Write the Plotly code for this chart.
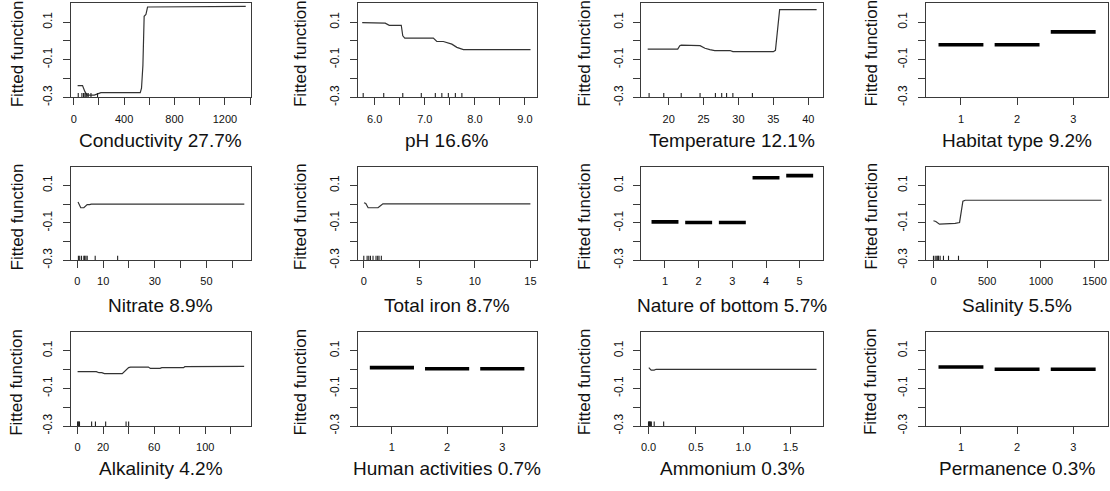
import plotly.graph_objects as go

W, H = 1110, 491

# ---------------- data ----------------
titles = ["Conductivity 27.7%", "pH 16.6%", "Temperature 12.1%", "Habitat type 9.2%",
          "Nitrate 8.9%", "Total iron 8.7%", "Nature of bottom 5.7%", "Salinity 5.5%",
          "Alkalinity 4.2%", "Human activities 0.7%", "Ammonium 0.3%", "Permanence 0.3%"]

cond_x = [31, 70, 89, 105, 163, 189, 216, 528, 538, 549, 559, 573, 586, 1365]
cond_y = [-0.237, -0.237, -0.269, -0.287, -0.287, -0.279, -0.274, -0.274, -0.251, -0.130, 0.131, 0.140, 0.180, 0.183]
cond_rug = [36, 65, 78, 89, 97, 105, 115, 137, 189]

ph_x = [5.75, 6.18, 6.21, 6.29, 6.53, 6.56, 6.60, 7.17, 7.24, 7.37, 7.54, 7.64, 7.72, 7.77, 9.11]
ph_y = [0.097, 0.097, 0.094, 0.083, 0.083, 0.027, 0.015, 0.015, -0.003, -0.003, -0.017, -0.034, -0.040, -0.046, -0.046]
ph_rug = [5.77, 6.18, 6.56, 6.93, 7.21, 7.34, 7.47, 7.61, 7.74]

temp_x = [17.0, 21.3, 21.6, 21.8, 24.5, 25.2, 25.9, 26.6, 28.8, 29.2, 35.0, 35.3, 35.9, 41.2]
temp_y = [-0.043, -0.043, -0.025, -0.022, -0.025, -0.039, -0.046, -0.051, -0.051, -0.057, -0.057, -0.050, 0.166, 0.166]
temp_rug = [17.2, 19.3, 21.8, 24.5, 26.7, 27.6, 28.3, 29.2, 32.0]

habitat_levels = [1, 2, 3]
habitat_y = [-0.020, -0.020, 0.048]

nitrate_x = [0.25, 1.3, 2.5, 3.8, 4.7, 5.4, 64.7]
nitrate_y = [0.012, -0.019, -0.019, -0.002, -0.002, 0.000, 0.000]
nitrate_rug = [0.4, 0.9, 1.6, 2.5, 2.8, 3.3, 3.8, 6.9, 15.6]

iron_x = [0.02, 0.18, 0.39, 1.28, 1.5, 1.72, 15.0]
iron_y = [0.008, 0.004, -0.019, -0.019, -0.008, 0.002, 0.002]
iron_rug = [0.0, 0.3, 0.45, 0.6, 0.83, 1.1, 1.25, 1.37, 1.58]

bottom_levels = [1, 2, 3, 4, 5]
bottom_y = [-0.095, -0.098, -0.098, 0.142, 0.153]

sal_x = [0, 22, 56, 171, 202, 243, 274, 296, 1565]
sal_y = [-0.089, -0.093, -0.107, -0.107, -0.103, -0.098, 0.016, 0.021, 0.021]
sal_rug = [0, 16, 31, 40, 47, 62, 93, 140, 233]

alk_x = [0, 14.7, 16.8, 19, 21, 35, 40, 41.5, 55.5, 57, 64.6, 66, 83, 84, 130.5]
alk_y = [-0.011, -0.011, -0.017, -0.017, -0.022, -0.022, 0.010, 0.013, 0.013, 0.006, 0.006, 0.010, 0.010, 0.015, 0.017]
alk_rug = [0, 0.5, 1, 1.5, 11, 14, 22, 38, 40]

human_levels = [1, 2, 3]
human_y = [0.010, 0.004, 0.004]

amm_x = [0.003, 0.028, 0.06, 0.08, 1.775]
amm_y = [0.010, -0.003, -0.003, 0.001, 0.001]
amm_rug = [0.0, 0.005, 0.01, 0.015, 0.02, 0.03, 0.06, 0.16]

perm_levels = [1, 2, 3]
perm_y = [0.013, 0.001, 0.001]

# x axis setup per panel: (range, tickvals, ticktext)
x_axes = [
    ([-22, 1405], [0, 200, 400, 600, 800, 1000, 1200, 1400], ["0", "", "400", "", "800", "", "1200", ""]),
    ([5.66, 9.23], [6.0, 6.5, 7.0, 7.5, 8.0, 8.5, 9.0], ["6.0", "", "7.0", "", "8.0", "", "9.0"]),
    ([16.1, 42.15], [20, 25, 30, 35, 40], ["20", "25", "30", "35", "40"]),
    ([0.38, 3.62], [1, 2, 3], ["1", "2", "3"]),
    ([-2.5, 67.2], [0, 10, 20, 30, 40, 50, 60], ["0", "10", "", "30", "", "50", ""]),
    ([-0.55, 15.55], [0, 5, 10, 15], ["0", "5", "10", "15"]),
    ([0.3, 5.7], [1, 2, 3, 4, 5], ["1", "2", "3", "4", "5"]),
    ([-68, 1625], [0, 500, 1000, 1500], ["0", "500", "1000", "1500"]),
    ([-5.2, 135.7], [0, 20, 40, 60, 80, 100, 120], ["0", "20", "", "60", "", "100", ""]),
    ([0.38, 3.62], [1, 2, 3], ["1", "2", "3"]),
    ([-0.075, 1.846], [0.0, 0.5, 1.0, 1.5], ["0.0", "0.5", "1.0", "1.5"]),
    ([0.38, 3.62], [1, 2, 3], ["1", "2", "3"]),
]

y_range = [-0.3, 0.2]
y_tickvals = [-0.3, -0.2, -0.1, 0.0, 0.1]
y_ticktext = ["-0.3", "", "-0.1", "", "0.1"]

continuous = {0: (cond_x, cond_y, cond_rug), 1: (ph_x, ph_y, ph_rug), 2: (temp_x, temp_y, temp_rug),
              4: (nitrate_x, nitrate_y, nitrate_rug), 5: (iron_x, iron_y, iron_rug),
              7: (sal_x, sal_y, sal_rug), 8: (alk_x, alk_y, alk_rug), 10: (amm_x, amm_y, amm_rug)}
categorical = {3: (habitat_levels, habitat_y), 6: (bottom_levels, bottom_y),
               9: (human_levels, human_y), 11: (perm_levels, perm_y)}

# ---------------- layout geometry (pixels) ----------------
col_px = [(70, 250), (357, 536), (641, 823), (926, 1108)]
row_px = [(3.3, 99.3), (170, 265), (338, 434)]
ytitle_px = [16, 300, 584, 871]
xtitle_py = [143, 311, 477]

FONT = "Liberation Sans, Arial, Helvetica, sans-serif"
AX = "#3a3a3a"

fig = go.Figure()
layout = dict(width=W, height=H, margin=dict(l=0, r=0, t=0, b=0),
              paper_bgcolor="white", plot_bgcolor="white", showlegend=False,
              font=dict(family=FONT, color="#111"))
annotations = []

for i in range(12):
    r, c = divmod(i, 4)
    n = "" if i == 0 else str(i + 1)
    xa, ya = "x" + n, "y" + n
    x0, x1 = col_px[c]
    y0, y1 = row_px[r]
    rng, tv, tt = x_axes[i]
    layout["xaxis" + n] = dict(domain=[x0 / W, x1 / W], range=rng, anchor=ya,
                               tickvals=tv, ticktext=tt, ticks="outside", ticklen=7,
                               tickcolor=AX, tickwidth=1, showline=True, linecolor=AX,
                               linewidth=1, mirror=True, showgrid=False, zeroline=False,
                               tickfont=dict(size=11, family=FONT, color="#111"),
                               ticklabelstandoff=4, fixedrange=True)
    layout["yaxis" + n] = dict(domain=[1 - y1 / H, 1 - y0 / H], range=y_range, anchor=xa,
                               tickvals=y_tickvals, ticktext=y_ticktext, ticks="outside",
                               ticklen=7, tickcolor=AX, tickwidth=1, showline=True,
                               linecolor=AX, linewidth=1, mirror=True, showgrid=False,
                               zeroline=False, tickangle=-90,
                               tickfont=dict(size=12, family=FONT, color="#111"),
                               ticklabelstandoff=6, fixedrange=True)
    if i in continuous:
        xs, ys, rug = continuous[i]
        fig.add_trace(go.Scatter(x=xs, y=ys, mode="lines", xaxis=xa, yaxis=ya,
                                 line=dict(color="#333", width=1.2), hoverinfo="skip"))
        fig.add_trace(go.Scatter(x=rug, y=[y_range[0]] * len(rug), mode="markers",
                                 xaxis=xa, yaxis=ya, marker=dict(size=0.1, color="#222"),
                                 error_y=dict(type="data", symmetric=False,
                                              array=[0.024] * len(rug), arrayminus=[0] * len(rug),
                                              width=0, thickness=1.1, color="#222"),
                                 hoverinfo="skip"))
    else:
        lv, ys = categorical[i]
        sx, sy = [], []
        for l, v in zip(lv, ys):
            sx += [l - 0.4, l + 0.4, None]
            sy += [v, v, None]
        fig.add_trace(go.Scatter(x=sx, y=sy, mode="lines", xaxis=xa, yaxis=ya,
                                 line=dict(color="black", width=3.6), hoverinfo="skip"))
    # titles
    annotations.append(dict(text=titles[i], x=(x0 + x1) / 2 / W, y=1 - xtitle_py[r] / H,
                            xref="paper", yref="paper", showarrow=False,
                            xanchor="center", yanchor="middle",
                            font=dict(size=19, family=FONT, color="#111")))
    annotations.append(dict(text="Fitted function", x=ytitle_px[c] / W,
                            y=1 - ((y0 + y1) / 2 + 3) / H, xref="paper", yref="paper",
                            showarrow=False, textangle=-90, xanchor="center", yanchor="middle",
                            font=dict(size=17, family=FONT, color="#111")))

layout["annotations"] = annotations
fig.update_layout(**layout)
fig.write_html("out.html", config={"displayModeBar": False, "staticPlot": True},
               post_script="document.body.style.margin='0px';document.body.style.padding='0px';")
